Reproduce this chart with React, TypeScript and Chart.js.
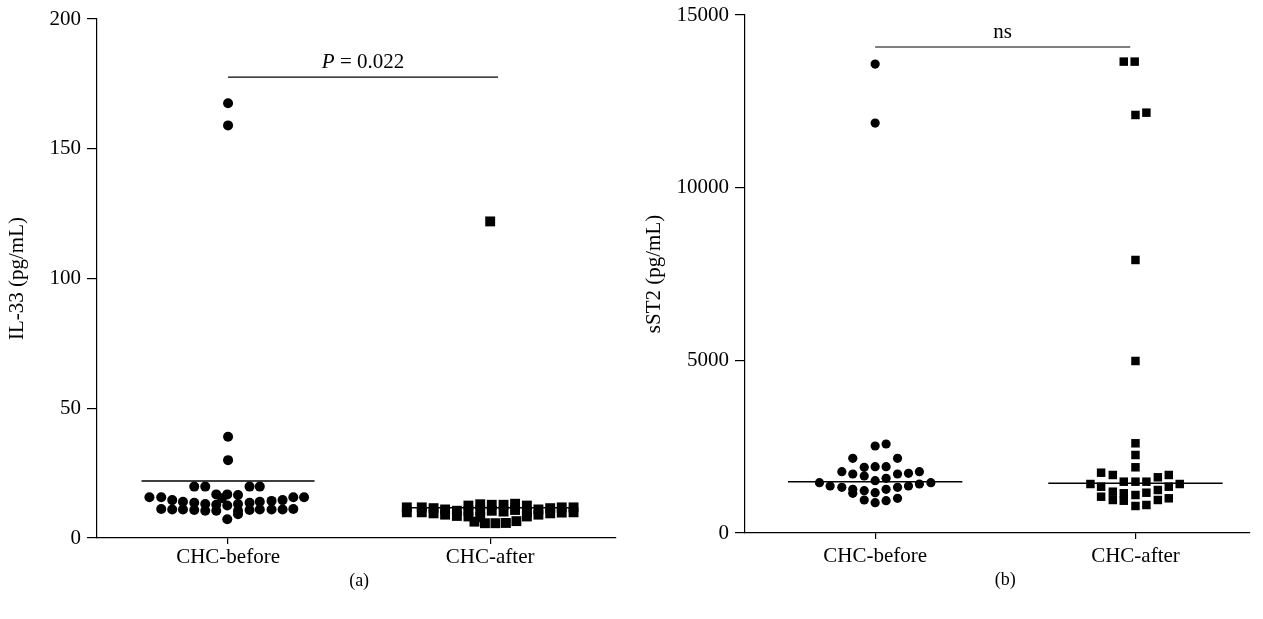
import React, { useEffect, useRef } from 'react';
import { Chart, registerables } from 'chart.js';

Chart.register(...registerables);

const categories = ['CHC-before', 'CHC-after'];
const il33Ticks = [0, 50, 100, 150, 200];
const sst2Ticks = [0, 5000, 10000, 15000];

// IL-33 (pg/mL), CHC-before: values and horizontal scatter offsets
const il33BeforeValues = [
  167.5, 159, 39, 30,
  19.8, 19.8, 19.8, 19.8,
  16.8, 16.8, 15.3, 16.6,
  15.7, 15.7, 15.7, 15.7,
  14.6, 14.0, 13.6, 13.1, 12.8, 13.1, 13.6, 14.0, 14.3, 14.6,
  11.2, 11.0, 11.0, 10.8, 10.5, 10.5, 12.5, 10.5, 10.8, 11.0, 11.0, 11.0, 11.2,
  7.2, 9.2,
];
const il33BeforeJitter = [
  0, 0, 0, 0,
  -0.129, -0.087, 0.082, 0.121,
  -0.045, -0.003, -0.023, 0.038,
  -0.3, -0.255, 0.249, 0.29,
  -0.213, -0.172, -0.129, -0.087, -0.045, 0.038, 0.082, 0.121, 0.166, 0.208,
  -0.255, -0.213, -0.172, -0.129, -0.087, -0.045, -0.003, 0.038, 0.082, 0.121, 0.166, 0.208, 0.249,
  -0.003, 0.038,
];

// IL-33 (pg/mL), CHC-after
const il33AfterValues = [
  122,
  11.8, 9.9, 11.8, 9.9, 11.5, 9.5, 11.0, 9.0, 10.5, 8.5,
  12.5, 10.5, 8.3, 13.0, 10.8, 8.0, 12.8, 10.5, 12.8, 10.2, 13.2, 10.8, 12.5, 10.0, 8.3,
  11.0, 9.0, 11.5, 9.5, 11.8, 9.8, 11.8, 9.9,
  6.3, 5.7, 5.7, 5.8, 6.5,
];
const il33AfterJitter = [
  0,
  -0.318, -0.318, -0.261, -0.261, -0.216, -0.216, -0.172, -0.172, -0.127, -0.127,
  -0.083, -0.083, -0.083, -0.038, -0.038, -0.038, 0.006, 0.006, 0.051, 0.051, 0.095, 0.095, 0.14, 0.14, 0.14,
  0.184, 0.184, 0.229, 0.229, 0.273, 0.273, 0.318, 0.318,
  -0.06, -0.02, 0.02, 0.06, 0.1,
];

// sST2 (pg/mL), CHC-before
const sst2BeforeValues = [
  13580, 11870,
  2520, 2577,
  2163, 2163,
  1775, 1709, 1903, 1920, 1920, 1709, 1729, 1775,
  1651, 1515, 1584,
  1457, 1361, 1323, 1265, 1225, 1167, 1265, 1323, 1361, 1419, 1457,
  1150,
  956, 878, 935, 1005,
];
const sst2BeforeJitter = [
  0, 0,
  0, 0.042,
  -0.086, 0.086,
  -0.128, -0.086, -0.042, 0, 0.042, 0.086, 0.128, 0.17,
  -0.042, 0, 0.042,
  -0.214, -0.173, -0.128, -0.086, -0.042, 0, 0.042, 0.086, 0.128, 0.17, 0.214,
  -0.086,
  -0.042, 0, 0.042, 0.086,
];

// sST2 (pg/mL), CHC-after
const sst2AfterValues = [
  13650, 13650, 12105, 12172, 7906, 4981,
  2598, 2259, 1903, 1486, 1100, 782,
  1419,
  1746, 1341, 1051,
  1680, 1196, 956,
  1486, 1150, 935,
  1486, 1167, 811,
  1613, 1245, 956,
  1680, 1341, 1005,
  1419,
];
const sst2AfterJitter = [
  -0.045, -0.003, 0, 0.042, 0, 0,
  0, 0, 0, 0, 0, 0,
  -0.173,
  -0.132, -0.132, -0.132,
  -0.087, -0.087, -0.087,
  -0.045, -0.045, -0.045,
  0.042, 0.042, 0.042,
  0.086, 0.086, 0.086,
  0.128, 0.128, 0.128,
  0.17,
];

const il33Centers = [22.0, 11.7];
const sst2Centers = [1486, 1440];

const FONT = '"Liberation Serif", "Times New Roman", serif';

const annotatePlugin = {
  id: 'annot',
  afterDraw(chart: any, _args: any, opts: any) {
    const { ctx, scales } = chart;
    const x = scales.x;
    const y = scales.y;
    const yy = y.getPixelForValue(opts.barValue);
    const x1 = x.getPixelForValue(opts.barFrom);
    const x2 = x.getPixelForValue(opts.barTo);
    ctx.save();
    ctx.strokeStyle = '#000';
    ctx.lineWidth = 1.2;
    ctx.beginPath();
    ctx.moveTo(x1, yy);
    ctx.lineTo(x2, yy);
    ctx.stroke();
    const cx = (x1 + x2) / 2;
    ctx.fillStyle = '#000';
    ctx.textBaseline = 'alphabetic';
    ctx.textAlign = 'left';
    const italicFont = 'italic 21px ' + FONT;
    const normalFont = '21px ' + FONT;
    ctx.font = italicFont;
    const w1 = opts.italic ? ctx.measureText(opts.italic).width : 0;
    ctx.font = normalFont;
    const w2 = ctx.measureText(opts.text).width;
    let sx = cx - (w1 + w2) / 2;
    const by = yy - 9;
    if (opts.italic) {
      ctx.font = italicFont;
      ctx.fillText(opts.italic, sx, by);
      sx += w1;
    }
    ctx.font = normalFont;
    ctx.fillText(opts.text, sx, by);
    // panel label
    ctx.font = '18px ' + FONT;
    ctx.textAlign = 'center';
    ctx.textBaseline = 'middle';
    ctx.fillText(opts.panel, x.getPixelForValue(1.5), chart.chartArea.bottom + opts.panelGap);
    ctx.restore();
  },
};

function pts(values: number[], jitter: number[], base: number) {
  return values.map((v, i) => ({ x: base + jitter[i], y: v }));
}

function centerLine(v: number, base: number, half: number) {
  return [
    { x: base - half, y: v },
    { x: base + half, y: v },
  ];
}

function makeConfig(p: any) {
  return {
    type: 'scatter',
    data: {
      datasets: [
        {
          type: 'line',
          data: centerLine(p.centers[0], 1, p.half),
          borderColor: '#000',
          borderWidth: 1.5,
          pointRadius: 0,
          fill: false,
        },
        {
          type: 'line',
          data: centerLine(p.centers[1], 2, p.half),
          borderColor: '#000',
          borderWidth: 1.5,
          pointRadius: 0,
          fill: false,
        },
        {
          data: pts(p.bv, p.bj, 1),
          pointStyle: 'circle',
          pointRadius: p.circleR,
          backgroundColor: '#000',
          borderWidth: 0,
        },
        {
          data: pts(p.av, p.aj, 2),
          pointStyle: 'rect',
          pointRadius: p.rectR,
          backgroundColor: '#000',
          borderWidth: 0,
        },
      ],
    },
    options: {
      animation: false,
      responsive: true,
      maintainAspectRatio: false,
      layout: { padding: { top: p.padTop, right: p.padRight, left: 0, bottom: 0 } },
      plugins: {
        legend: { display: false },
        tooltip: { enabled: false },
        annot: p.annot,
      },
      scales: {
        x: {
          type: 'linear',
          min: 0.5,
          max: p.xMax,
          afterBuildTicks: (s: any) => {
            s.ticks = categories.map((_, i) => ({ value: i + 1 }));
          },
          afterFit: (s: any) => {
            s.height = p.xHeight;
            s.paddingLeft = 0;
            s.paddingRight = 0;
          },
          ticks: {
            color: '#000',
            font: { family: FONT, size: 21 },
            padding: p.xTickPad,
            maxRotation: 0,
            callback: (v: number) => categories[Math.round(v) - 1],
          },
          grid: { drawOnChartArea: false, color: '#000', tickLength: 6, lineWidth: 1.2 },
          border: { color: '#000', width: 1.2 },
        },
        y: {
          type: 'linear',
          min: p.yTicks[0],
          max: p.yTicks[p.yTicks.length - 1],
          afterBuildTicks: (s: any) => {
            s.ticks = p.yTicks.map((v: number) => ({ value: v }));
          },
          afterFit: (s: any) => {
            s.width = p.yWidth;
            s.paddingTop = 0;
            s.paddingBottom = 0;
          },
          ticks: {
            color: '#000',
            font: { family: FONT, size: 21 },
            padding: 6,
            callback: (v: number) => String(v),
          },
          title: {
            display: true,
            text: p.yTitle,
            color: '#000',
            font: { family: FONT, size: 21 },
            padding: { top: p.titlePad, bottom: 0 },
          },
          grid: { drawOnChartArea: false, color: '#000', tickLength: 10, lineWidth: 1.2 },
          border: { color: '#000', width: 1.2 },
        },
      },
    },
    plugins: [annotatePlugin],
  };
}

function Panel(props: { left: number; width: number; cfg: any }) {
  const ref = useRef<HTMLCanvasElement | null>(null);
  useEffect(() => {
    if (!ref.current) return;
    const chart = new Chart(ref.current, props.cfg);
    return () => chart.destroy();
  }, []);
  return (
    <div style={{ position: 'absolute', left: props.left, top: 0, width: props.width, height: 619 }}>
      <canvas ref={ref} />
    </div>
  );
}

export default function App() {
  const leftCfg = makeConfig({
    centers: il33Centers,
    half: 0.33,
    bv: il33BeforeValues,
    bj: il33BeforeJitter,
    av: il33AfterValues,
    aj: il33AfterJitter,
    circleR: 5,
    rectR: 7,
    padTop: 19,
    padRight: 14,
    xMax: 2.48,
    xHeight: 81,
    xTickPad: 1,
    yWidth: 97,
    yTicks: il33Ticks,
    yTitle: 'IL-33 (pg/mL)',
    titlePad: 5,
    annot: { barValue: 177.6, barFrom: 1, barTo: 2.03, italic: 'P', text: ' = 0.022', panel: '(a)', panelGap: 43 },
  });
  const rightCfg = makeConfig({
    centers: sst2Centers,
    half: 0.335,
    bv: sst2BeforeValues,
    bj: sst2BeforeJitter,
    av: sst2AfterValues,
    aj: sst2AfterJitter,
    circleR: 4.6,
    rectR: 6,
    padTop: 15,
    padRight: 13,
    xMax: 2.44,
    xHeight: 86,
    xTickPad: 5,
    yWidth: 115,
    yTicks: sst2Ticks,
    yTitle: 'sST2 (pg/mL)',
    titlePad: 12,
    annot: { barValue: 14074, barFrom: 1, barTo: 1.98, italic: '', text: 'ns', panel: '(b)', panelGap: 47 },
  });
  return (
    <div style={{ position: 'absolute', left: 0, top: 0, width: 1263, height: 619, background: '#fff' }}>
      <Panel left={0} width={630} cfg={leftCfg} />
      <Panel left={630} width={633} cfg={rightCfg} />
    </div>
  );
}
